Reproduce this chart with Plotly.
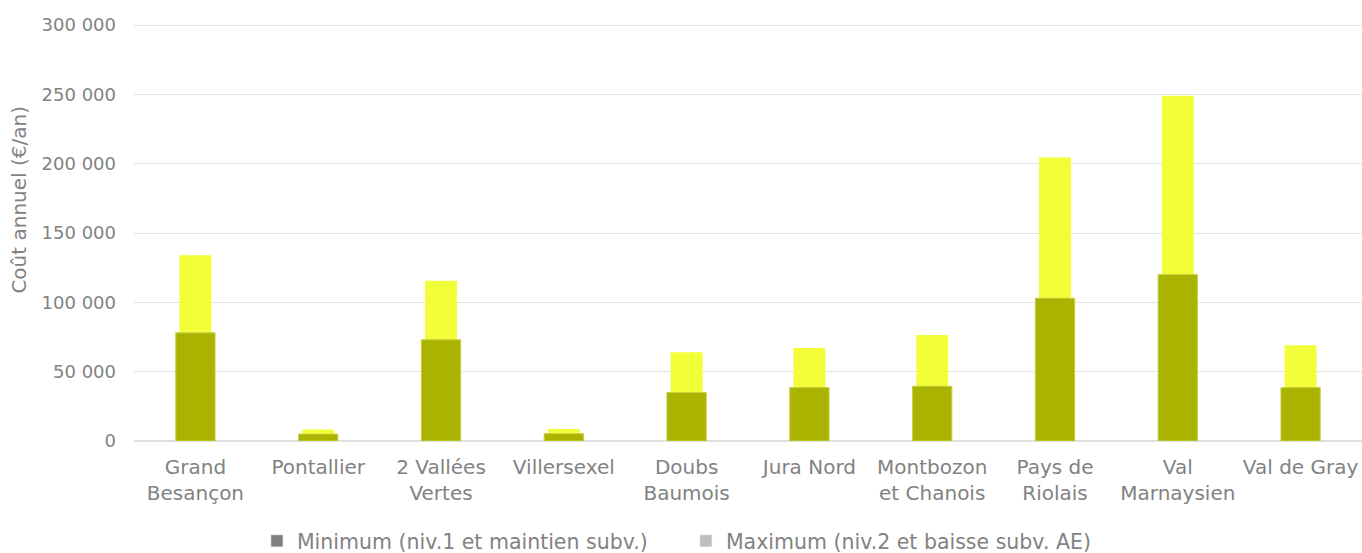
import plotly.graph_objects as go

# Données
categories = ["Grand<br>Besançon", "Pontallier", "2 Vallées<br>Vertes", "Villersexel",
              "Doubs<br>Baumois", "Jura Nord", "Montbozon<br>et Chanois",
              "Pays de<br>Riolais", "Val<br>Marnaysien", "Val de Gray"]
cout_min = [78000, 5000, 73000, 5300, 35000, 38500, 39500, 103000, 120000, 38500]
cout_max = [134000, 8300, 115500, 8700, 64000, 67000, 76500, 204500, 249000, 69000]

TXT = "#828282"
FONT = "'DejaVu Sans', sans-serif"

fig = go.Figure()

# Maximum (derrière, plus étroit)
fig.add_trace(go.Bar(
    x=categories, y=cout_max, width=0.26, showlegend=False,
    marker=dict(color="#F2FF38", line=dict(width=0)),
    hoverinfo="x+y",
))
# Minimum (devant, plus large)
fig.add_trace(go.Bar(
    x=categories, y=cout_min, width=0.32, showlegend=False,
    marker=dict(color="#AAB300", line=dict(width=1, color="#C8D040")),
    hoverinfo="x+y",
))

# entrées de légende (carrés gris comme l'original)
fig.add_trace(go.Bar(x=[categories[0]], y=[None], name="Minimum (niv.1 et maintien subv.)",
                     marker_color="#7f7f7f"))
fig.add_trace(go.Bar(x=[categories[0]], y=[None], name="Maximum (niv.2 et baisse subv. AE)",
                     marker_color="#bfbfbf"))

fig.update_layout(
    width=1362, height=553,
    barmode="overlay",
    plot_bgcolor="white", paper_bgcolor="white",
    separators=", ",
    font=dict(family=FONT, size=18, color=TXT),
    margin=dict(l=134, r=0, t=23, b=112, autoexpand=False),
    showlegend=True,
    legend=dict(orientation="h", x=0.1001, xanchor="left",
                yref="container", y=12 / 553, yanchor="middle",
                font=dict(size=20.5, color=TXT), entrywidth=384,
                traceorder="normal"),
)
fig.update_yaxes(range=[0, 301500], tickvals=[0, 50000, 100000, 150000, 200000, 250000, 300000],
                 tickformat=",",
                 showgrid=True, gridcolor="#e4e4e4", gridwidth=1,
                 zeroline=True, zerolinecolor="#e0e0e0", zerolinewidth=1.5,
                 showline=False, ticklabelstandoff=17, tickfont=dict(size=18))
fig.update_xaxes(showgrid=False, showline=False, tickfont=dict(size=20),
                 ticklabelstandoff=12)

fig.add_annotation(
    text="Coût annuel (€/an)", textangle=-90, showarrow=False,
    xref="paper", yref="paper", x=-0.093, y=0.577, xshift=-1,
    xanchor="center", yanchor="middle", font=dict(size=20, color=TXT),
)

fig.write_html("out.html", config={"displayModeBar": False},
               post_script="document.body.style.margin='0';")
